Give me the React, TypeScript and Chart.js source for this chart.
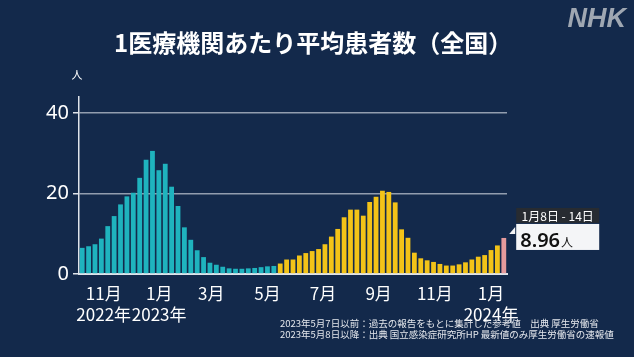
import React, { useEffect, useRef } from "react";
import { Chart, registerables } from "chart.js";

Chart.register(...registerables);

// ---- data ----
const firstWeekStart = "2022-10-03";
const beforeMay8 = [6.5, 6.9, 7.4, 8.8, 11.9, 14.4, 17.3, 19.3, 20.2, 23.9, 28.4, 30.6, 25.8, 27.4, 21.7, 16.9, 11.6, 8.5, 5.9, 4.2, 2.8, 2.3, 1.8, 1.4, 1.3, 1.3, 1.4, 1.5, 1.7, 1.9, 2.0];
const afterMay8 = [2.6, 3.6, 3.6, 4.6, 5.2, 5.7, 6.2, 7.4, 9.3, 11.2, 14.1, 16.0, 16.0, 14.5, 17.9, 19.2, 20.7, 20.4, 17.8, 11.1, 9.0, 5.3, 3.9, 3.4, 3.0, 2.5, 2.1, 2.1, 2.4, 2.9, 3.6, 4.3, 4.7, 5.95, 7.1];
const latest = [8.96];
const latestWeekLabel = "1月8日 - 14日";
const yTicks = [0, 20, 40];
const yMax = 44;
const monthTickPositions = [3.37, 12.05, 20.2, 29.0, 37.7, 46.4, 55.2, 64.0];
const monthTickLabels = [["11月", "2022年"], ["1月", "2023年"], ["3月"], ["5月"], ["7月"], ["9月"], ["11月"], ["1月", "2024年"]];
const titleText = "1医療機関あたり平均患者数（全国）";
const unitText = "人";
const notes = [
  "2023年5月7日以前：過去の報告をもとに集計した参考値　出典 厚生労働省",
  "2023年5月8日以降：出典 国立感染症研究所HP 最新値のみ厚生労働省の速報値",
];

// ---- colours ----
const BG = "#13294b";
const TEAL = "#1fb3be";
const YELLOW = "#f3c318";
const PINK = "#e59a9c";
const JP = '"Noto Sans CJK JP", "Noto Sans", sans-serif';

const allValues = [...beforeMay8, ...afterMay8, ...latest];
const barColors = [
  ...beforeMay8.map(() => TEAL),
  ...afterMay8.map(() => YELLOW),
  ...latest.map(() => PINK),
];
const weekLabels = allValues.map((_, i) => {
  const d = new Date(firstWeekStart + "T00:00:00");
  d.setDate(d.getDate() + i * 7);
  return `${d.getFullYear()}/${d.getMonth() + 1}/${d.getDate()}`;
});

const decorPlugin = {
  id: "decor",
  beforeDraw(chart: any) {
    const { ctx, width, height } = chart;
    ctx.save();
    ctx.fillStyle = BG;
    ctx.fillRect(0, 0, width, height);
    ctx.restore();
  },
  afterDraw(chart: any) {
    const { ctx } = chart;
    ctx.save();
    // title
    ctx.fillStyle = "#ffffff";
    ctx.font = `bold 24px ${JP}`;
    ctx.textAlign = "left";
    ctx.textBaseline = "middle";
    ctx.fillText(titleText, 114, 43);
    // unit
    ctx.font = `11px ${JP}`;
    ctx.textAlign = "center";
    ctx.fillText(unitText, 77, 75);
    // NHK logo
    ctx.fillStyle = "#9fa7b2";
    ctx.font = 'italic bold 27px "Liberation Sans", sans-serif';
    ctx.textAlign = "right";
    ctx.textBaseline = "alphabetic";
    ctx.fillText("NHK", 626, 27);
    // footnotes
    ctx.fillStyle = "#e4e7ec";
    ctx.font = `9.5px ${JP}`;
    ctx.textAlign = "left";
    ctx.textBaseline = "middle";
    ctx.fillText(notes[0], 280, 323);
    ctx.fillText(notes[1], 280, 334);

    // annotation for the latest bar
    const meta = chart.getDatasetMeta(0);
    const bar: any = meta.data[meta.data.length - 1];
    if (bar) {
      const right = bar.x + bar.width / 2;
      const top = bar.y;
      const boxL = right + 10;
      const boxW = 83;
      ctx.fillStyle = "#272b31";
      ctx.fillRect(boxL, top - 30, boxW, 15);
      ctx.fillStyle = "#ffffff";
      ctx.font = `12px ${JP}`;
      ctx.textAlign = "center";
      ctx.textBaseline = "middle";
      ctx.fillText(latestWeekLabel, boxL + boxW / 2, top - 22);
      ctx.fillStyle = "#f4f5f7";
      ctx.fillRect(boxL, top - 14, boxW, 26);
      ctx.beginPath();
      ctx.moveTo(boxL - 1, top - 11);
      ctx.lineTo(boxL - 1, top - 4);
      ctx.lineTo(boxL - 7, top - 4);
      ctx.closePath();
      ctx.fill();
      ctx.fillStyle = "#111111";
      ctx.font = '600 20px "Noto Sans", sans-serif';
      ctx.textAlign = "left";
      ctx.textBaseline = "alphabetic";
      const valText = latest[latest.length - 1].toFixed(2);
      ctx.fillText(valText, boxL + 4, top + 9);
      const w = ctx.measureText(valText).width;
      ctx.font = `12px ${JP}`;
      ctx.fillText(unitText, boxL + 5 + w, top + 9);
    }
    ctx.restore();
  },
};

export default function App() {
  const ref = useRef<HTMLCanvasElement | null>(null);
  useEffect(() => {
    document.body.style.margin = "0";
    document.body.style.background = BG;
    const canvas = ref.current;
    if (!canvas) return;
    const chart = new Chart(canvas, {
      type: "bar",
      data: {
        labels: weekLabels,
        datasets: [
          {
            data: allValues,
            backgroundColor: barColors,
            borderWidth: 0,
            barPercentage: 0.75,
            categoryPercentage: 1,
          },
        ],
      },
      options: {
        animation: false,
        responsive: false,
        devicePixelRatio: 1,
        layout: { padding: { top: 97, right: 127, left: 0, bottom: 0 } },
        plugins: { legend: { display: false }, tooltip: { enabled: false }, title: { display: false } },
        scales: {
          x: {
            type: "category",
            offset: true,
            grid: { display: false, drawTicks: false },
            border: { display: true, color: "#dfe3ea", width: 2 },
            afterBuildTicks: (s: any) => {
              s.ticks = monthTickPositions.map((v) => ({ value: v }));
            },
            afterFit: (s: any) => {
              s.height = 83;
            },
            ticks: {
              autoSkip: false,
              maxRotation: 0,
              minRotation: 0,
              padding: 10,
              color: "#ffffff",
              font: { family: JP, size: 17, lineHeight: 1.18 },
              callback: (_v: any, i: number) => monthTickLabels[i],
            },
          },
          y: {
            min: 0,
            max: yMax,
            afterBuildTicks: (s: any) => {
              s.ticks = yTicks.map((v) => ({ value: v }));
            },
            afterFit: (s: any) => {
              s.width = 79;
            },
            grid: {
              color: (c: any) => (c.tick && c.tick.value === 0 ? "rgba(0,0,0,0)" : "rgba(190,196,208,0.75)"),
              lineWidth: 1.5,
              tickLength: 6,
              tickColor: "#dfe3ea",
            },
            border: { display: true, color: "#dfe3ea", width: 1.5 },
            ticks: {
              padding: 4,
              color: "#ffffff",
              font: { family: '"Noto Sans", sans-serif', size: 20 },
            },
          },
        },
      },
      plugins: [decorPlugin],
    });
    return () => chart.destroy();
  }, []);
  return (
    <div style={{ width: 634, height: 357, background: BG }}>
      <canvas ref={ref} width={634} height={357} style={{ display: "block", width: 634, height: 357 }} />
    </div>
  );
}
